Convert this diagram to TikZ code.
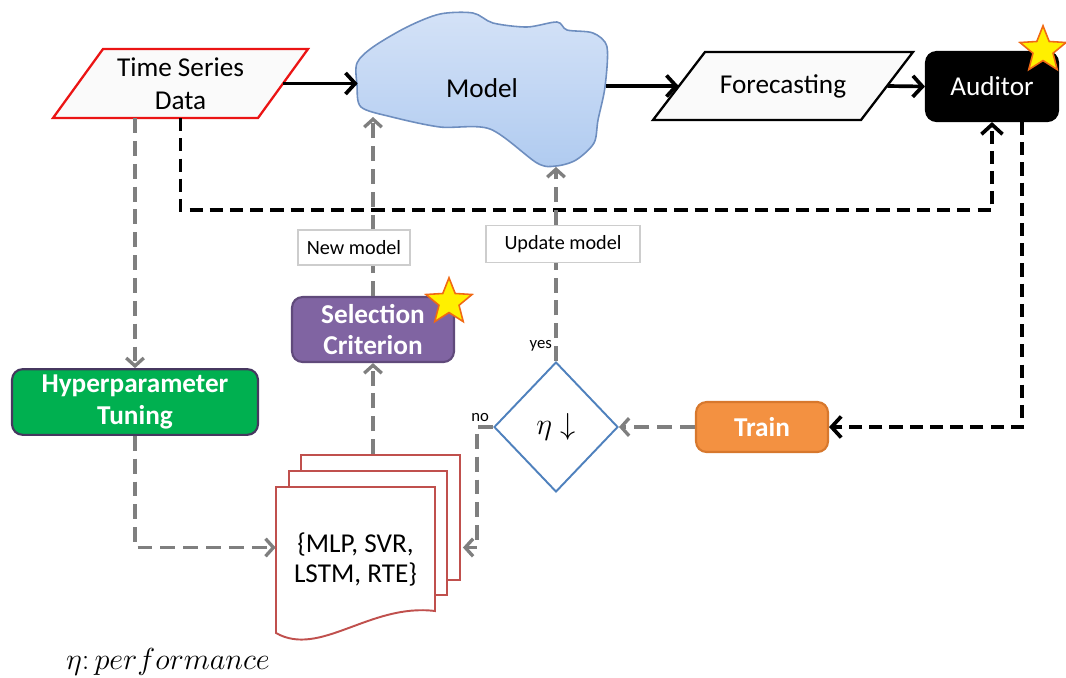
\documentclass[tikz,border=0pt]{standalone}
\usepackage{fontspec}
\setmainfont{Carlito}
\usepackage{amsmath}
\usepackage{tikz}
\usetikzlibrary{shapes.geometric, arrows.meta, positioning, calc}
\definecolor{mygray}{RGB}{127,127,127}
\definecolor{myred}{RGB}{235,20,20}
\definecolor{pagered}{RGB}{192,80,77}
\definecolor{myblue}{RGB}{79,129,189}
\definecolor{cloudtop}{RGB}{212,226,247}
\definecolor{cloudbot}{RGB}{176,203,240}
\definecolor{cloudline}{RGB}{110,142,191}
\definecolor{mygreen}{RGB}{0,176,80}
\definecolor{greenline}{RGB}{70,55,95}
\definecolor{mypurple}{RGB}{128,100,162}
\definecolor{purpleline}{RGB}{96,74,123}
\definecolor{myorange}{RGB}{243,145,65}
\definecolor{orangeline}{RGB}{215,120,45}
\definecolor{staryellow}{RGB}{255,240,0}
\definecolor{starline}{RGB}{240,105,20}
\definecolor{tagline}{RGB}{205,205,205}
\definecolor{paper}{RGB}{250,250,250}
\tikzset{
  bigtext/.style={font=\fontsize{15.5}{19}\selectfont, align=center, inner sep=0pt},
  iobox/.style={bigtext, minimum height=1.37cm},
  ioshape/.style={fill=paper, line width=1.3pt},
  procbox/.style={rectangle, rounded corners=6pt, text=white, align=center,
    font=\fontsize{15.5}{18}\selectfont\bfseries, line width=1.2pt},
  tag/.style={rectangle, draw=tagline, fill=white, line width=0.6pt,
    font=\fontsize{11.5}{13}\selectfont},
  mini/.style={font=\fontsize{9.5}{11}\selectfont, inner sep=1pt},
  page/.style={draw=pagered, fill=white, line width=1.1pt},
  starmark/.style={star, star points=5, star point ratio=2.3, minimum size=0.97cm,
    inner sep=0pt, fill=staryellow, draw=starline, line width=0.9pt},
  flow/.style={-{Straight Barb[length=5.5pt,width=12pt]}, line width=2.1pt, black},
  fback/.style={flow, dash pattern=on 7.5pt off 4pt},
  gline/.style={mygray, line width=1.9pt, dash pattern=on 8.5pt off 4.5pt},
  garrow/.style={gline, -{Straight Barb[length=4.5pt,width=10pt]}}
}

\begin{document}
\begin{tikzpicture}[x=0.02cm, y=-0.02cm]
  \useasboundingbox (0,0) rectangle (1066,677);

  % Model cloud
  \draw[top color=cloudtop, bottom color=cloudbot, draw=cloudline, line width=0.9pt]
    plot[smooth cycle] coordinates {(357,63) (373,47) (407,27) (440,14) (473,13)
      (493,23) (527,27) (557,22) (567,30) (593,33) (607,47) (605,87) (598,120)
      (594,143) (576,160) (556,166) (537,163) (490,129) (440,127) (392,117)
      (361,107) (357,85)};
  \node[bigtext, minimum width=4.96cm, minimum height=1.2cm] (model) at (482,88) {Model};
  \coordinate (modelbl) at (373,117);
  \coordinate (modelbot) at (556,167);

  % Input and output
  \draw[ioshape, draw=myred] (53,118) -- (103,49) -- (308,49) -- (258,118) -- cycle;
  \node[iobox, minimum width=4.1cm] (tsd) at (180.5,83.5) {Time Series\\Data};
  \draw[ioshape, draw=black] (653,120) -- (705,52) -- (913,52) -- (861,120) -- cycle;
  \node[iobox, minimum width=4.16cm] (fc) at (783,86) {Forecasting};

  % Process boxes
  \node[procbox, fill=black, draw=black, font=\fontsize{15.5}{18}\selectfont,
    minimum width=2.64cm, minimum height=1.38cm] (aud) at (992,86.5) {Auditor};
  \node[starmark] (audstar) at (1043,50) {};
  \node[procbox, fill=mygreen, draw=greenline, minimum width=4.92cm,
    minimum height=1.28cm] (hyp) at (135,402) {Hyperparameter\\Tuning};
  \node[procbox, fill=mypurple, draw=purpleline, minimum width=3.24cm,
    minimum height=1.3cm] (sel) at (373,329.5) {Selection\\Criterion};
  \node[starmark] (selstar) at (449,302) {};
  \node[procbox, fill=myorange, draw=orangeline, minimum width=2.64cm,
    minimum height=1.0cm] (train) at (762,427) {Train};

  % Decision
  \node[diamond, draw=myblue, fill=white, line width=1.1pt, inner sep=0pt,
    minimum width=2.48cm, minimum height=2.6cm,
    font=\fontsize{16}{18}\selectfont] (dia) at (556,427) {$\eta\;{\downarrow}$};
  \node[mini, anchor=south east] (yes) at ($(dia.north)+(-2,-8)$) {yes};
  \node[mini, anchor=south east] (no) at ($(dia.west)+(-2,-3)$) {no};

  % Stack of models
  \node[page, minimum width=3.18cm, minimum height=2.5cm] (back) at (380.5,517.5) {};
  \node[page, minimum width=3.16cm, minimum height=2.48cm] (mid) at (368,533) {};
  \draw[page] (276,487) -- (435,487) -- (435,611)
    .. controls (370,603) and (320,658) .. (276,633) -- cycle;
  \node[bigtext, minimum width=3.18cm, minimum height=2.9cm,
    font=\fontsize{15.5}{17.5}\selectfont] (front) at (355.5,559.5) {\{MLP, SVR,\\LSTM, RTE\}};

  % Tags on the lines
  \node[tag, minimum width=3.08cm, minimum height=0.74cm] (upd) at (563,244) {Update model};
  \node[tag, minimum width=2.24cm, minimum height=0.7cm] (newm) at (354,247.5) {New model};

  % Legend
  \node[font=\fontsize{16}{18}\selectfont] (legend) at (168,662) {$\eta{:}\,performance$};

  % Black flow
  \draw[flow] (tsd.east) -- (tsd.east -| model.west);
  \draw[flow] (model.east |- fc.west) -- (fc.west);
  \draw[flow] (fc.east) -- (aud.west);
  \draw[fback] (tsd.south) -- ++(0,92) -| (aud.south);
  \draw[fback] ($(aud.south)+(30,0)$) |- (train.east);

  % Gray flow
  \draw[garrow] (tsd.south -| hyp.north) -- (hyp.north);
  \draw[garrow] (hyp.south) |- ($(front.west)+(0,-12)$);
  \draw[garrow] (train.west) -- (dia.east);
  \draw[garrow] (dia.west) -- ++(-16,0) |- ($(back.east)+(2,30)$);
  \draw[garrow] (sel.south |- back.north) -- (sel.south);
  \draw[gline] (sel.north) -- (sel.north |- newm.south);
  \draw[garrow] (sel.north |- newm.north) -- (modelbl);
  \draw[gline] (dia.north) -- (dia.north |- upd.south);
  \draw[garrow] (dia.north |- upd.north) -- (modelbot);
\end{tikzpicture}
\end{document}
